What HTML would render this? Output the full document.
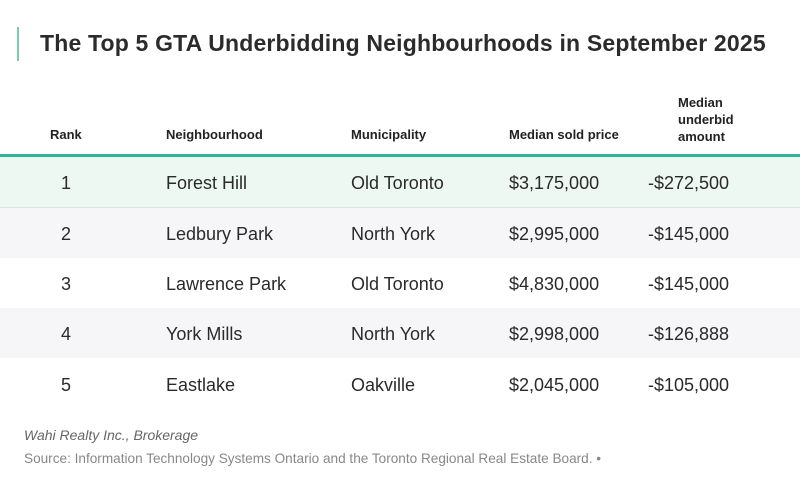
<!DOCTYPE html>
<html><head><style>
body{margin:0;width:800px;height:481px;background:#fff;font-family:"Liberation Sans",sans-serif;position:relative;overflow:hidden}
.a{position:absolute;white-space:nowrap}
.h{font-size:13px;font-weight:bold;color:#222}
.c{font-size:18px;color:#2a2a2a}
.row{position:absolute;left:0;width:800px;height:50px;border-bottom:1px solid #e2e2e6}
</style></head><body>
<div class="a" style="left:17px;top:27px;width:2px;height:34px;background:#7ccbb3"></div>
<div class="a" style="left:40px;top:30px;font-size:23px;font-weight:bold;color:#2b2b2b;letter-spacing:0.18px">The Top 5 GTA Underbidding Neighbourhoods in September 2025</div>
<div class="a h" style="left:50px;top:127px">Rank</div>
<div class="a h" style="left:166px;top:127px">Neighbourhood</div>
<div class="a h" style="left:351px;top:127px">Municipality</div>
<div class="a h" style="left:509px;top:127px">Median sold price</div>
<div class="a h" style="left:678px;top:94px;line-height:17px">Median<br>underbid<br>amount</div>
<div class="a" style="left:0;top:154px;width:800px;height:3px;background:#2fb39a"></div>
<div class="row" style="top:157px;background:#eef8f2"></div>
<div class="row" style="top:208px;background:#f6f6f8"></div>
<div class="row" style="top:258px;background:#fff"></div>
<div class="row" style="top:308px;background:#f6f6f8"></div>
<div class="row" style="top:358px;background:#fff;border:none"></div>
<div class="a c" style="left:61px;top:173px">1</div><div class="a c" style="left:166px;top:173px">Forest Hill</div><div class="a c" style="left:351px;top:173px">Old Toronto</div><div class="a c" style="left:509px;top:173px">$3,175,000</div><div class="a c" style="left:648px;top:173px">-$272,500</div>
<div class="a c" style="left:61px;top:224px">2</div><div class="a c" style="left:166px;top:224px">Ledbury Park</div><div class="a c" style="left:351px;top:224px">North York</div><div class="a c" style="left:509px;top:224px">$2,995,000</div><div class="a c" style="left:648px;top:224px">-$145,000</div>
<div class="a c" style="left:61px;top:274px">3</div><div class="a c" style="left:166px;top:274px">Lawrence Park</div><div class="a c" style="left:351px;top:274px">Old Toronto</div><div class="a c" style="left:509px;top:274px">$4,830,000</div><div class="a c" style="left:648px;top:274px">-$145,000</div>
<div class="a c" style="left:61px;top:324px">4</div><div class="a c" style="left:166px;top:324px">York Mills</div><div class="a c" style="left:351px;top:324px">North York</div><div class="a c" style="left:509px;top:324px">$2,998,000</div><div class="a c" style="left:648px;top:324px">-$126,888</div>
<div class="a c" style="left:61px;top:375px">5</div><div class="a c" style="left:166px;top:375px">Eastlake</div><div class="a c" style="left:351px;top:375px">Oakville</div><div class="a c" style="left:509px;top:375px">$2,045,000</div><div class="a c" style="left:648px;top:375px">-$105,000</div>
<div class="a" style="left:24px;top:427px;font-size:14px;font-style:italic;color:#666">Wahi Realty Inc., Brokerage</div>
<div class="a" style="left:24px;top:451px;font-size:13.6px;color:#888">Source: Information Technology Systems Ontario and the Toronto Regional Real Estate Board. •</div>
</body></html>
